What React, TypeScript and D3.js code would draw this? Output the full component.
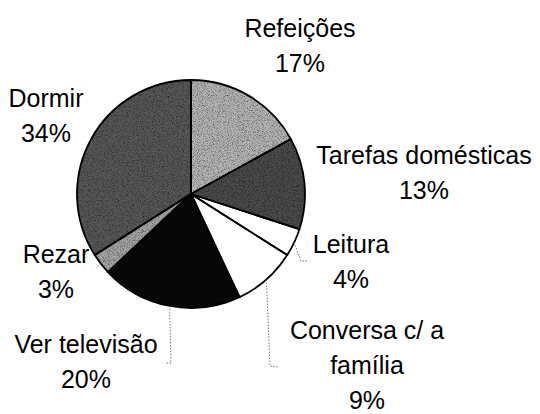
import React, { useRef, useEffect } from 'react';
import * as d3 from 'd3';

// activity shares (%), clockwise from 12 o'clock
const categories = ['Refeições', 'Tarefas domésticas', 'Leitura', 'Conversa c/ a família', 'Ver televisão', 'Rezar', 'Dormir'];
const values = [17, 13, 4, 9, 20, 3, 34];
const labelLines = [['Refeições'], ['Tarefas domésticas'], ['Leitura'], ['Conversa c/ a', 'família'], ['Ver televisão'], ['Rezar'], ['Dormir']];
const fills = ['#b4b4b4', '#4c4c4c', '#ffffff', '#ffffff', '#070707', '#a4a4a4', '#585858'];
const grainy = [true, true, false, false, false, true, true];

// label placement (layout only): text centre x, first baseline y, leader elbows
const labelLayout = [
  { x: 300, y: 37, leader: null },
  { x: 424, y: 164, leader: null },
  { x: 351, y: 253, leader: [[301, 261], [307, 261]] },
  { x: 367, y: 339, leader: [[270, 366], [278, 367]] },
  { x: 86, y: 353, leader: [[171, 363], [165, 363]] },
  { x: 56, y: 263, leader: [[96, 268]] },
  { x: 46, y: 107, leader: null },
];

const PieChart = ({ width = 540, height = 414 }) => {
  const svgRef = useRef(null);
  useEffect(() => {
    d3.select(svgRef.current).selectAll('*').remove();
    const svg = d3.select(svgRef.current);
    const cx = 191;
    const cy = 194;
    const r = 114;
    const lineH = 35;

    // speckle filter to mimic the printed screen texture
    const filt = svg.append('defs').append('filter').attr('id', 'grain').attr('x', 0).attr('y', 0).attr('width', 1).attr('height', 1);
    filt.append('feTurbulence').attr('type', 'fractalNoise').attr('baseFrequency', 1.2).attr('numOctaves', 1).attr('seed', 3).attr('result', 'noise');
    filt.append('feColorMatrix').attr('in', 'noise').attr('type', 'matrix')
      .attr('values', '0 0 0 0 0  0 0 0 0 0  0 0 0 0 0  0 0 0 -2.2 1.25')
      .attr('result', 'dots');
    filt.append('feComposite').attr('in', 'dots').attr('in2', 'SourceGraphic').attr('operator', 'in').attr('result', 'clip');
    const merge = filt.append('feMerge');
    merge.append('feMergeNode').attr('in', 'SourceGraphic');
    merge.append('feMergeNode').attr('in', 'clip');

    const data = categories.map((c, i) => ({ name: c, value: values[i], i }));
    const pie = d3.pie().value((d) => d.value).sort(null);
    const arcs = pie(data);
    const arc = d3.arc().innerRadius(0).outerRadius(r);

    const g = svg.append('g').attr('transform', `translate(${cx},${cy})`);
    g.selectAll('path.fillp')
      .data(arcs)
      .enter()
      .append('path')
      .attr('class', 'fillp')
      .attr('d', arc)
      .attr('fill', (d) => fills[d.data.i])
      .attr('filter', (d) => (grainy[d.data.i] ? 'url(#grain)' : null));
    g.selectAll('path.edge')
      .data(arcs)
      .enter()
      .append('path')
      .attr('class', 'edge')
      .attr('d', arc)
      .attr('fill', 'none')
      .attr('stroke', '#000')
      .attr('stroke-width', 1.8)
      .attr('stroke-linejoin', 'round');

    // leader lines (dotted, from the slice edge)
    arcs.forEach((a, i) => {
      const lay = labelLayout[i];
      if (!lay.leader) return;
      const mid = (a.startAngle + a.endAngle) / 2;
      const start = [cx + r * Math.sin(mid), cy - r * Math.cos(mid)];
      const pts = [start, ...lay.leader];
      svg
        .append('path')
        .attr('d', d3.line()(pts))
        .attr('fill', 'none')
        .attr('stroke', '#777')
        .attr('stroke-width', 1)
        .attr('stroke-dasharray', '1.5,1.5');
    });

    // labels
    arcs.forEach((a, i) => {
      const lay = labelLayout[i];
      const lines = [...labelLines[i], `${values[i]}%`];
      const t = svg
        .append('text')
        .attr('text-anchor', 'middle')
        .style('font-family', '"Liberation Sans", Arial, sans-serif')
        .style('font-size', '25px')
        .attr('fill', '#000');
      lines.forEach((ln, k) => {
        t.append('tspan').attr('x', lay.x).attr('y', lay.y + k * lineH).text(ln);
      });
    });
  }, [width, height]);

  return (
    <svg
      ref={svgRef}
      width={width}
      height={height}
      style={{ position: 'absolute', left: 0, top: 0, background: '#fff' }}
    ></svg>
  );
};

export default function App() {
  return <PieChart />;
}
